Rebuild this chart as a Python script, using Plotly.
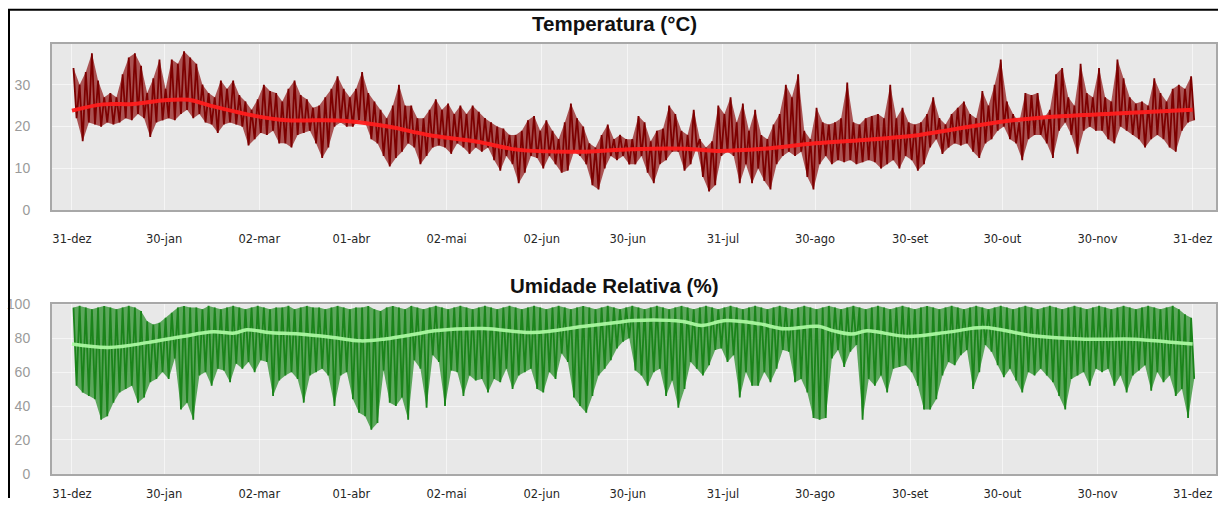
import plotly.graph_objects as go
import pandas as pd

# ---------------- data ----------------
START = "2012-12-31"

tick_dates = ["2012-12-31", "2013-01-30", "2013-03-02", "2013-04-01", "2013-05-02",
              "2013-06-02", "2013-06-30", "2013-07-31", "2013-08-30", "2013-09-30",
              "2013-10-30", "2013-11-30", "2013-12-31"]
tick_labels = ["31-dez", "30-jan", "02-mar", "01-abr", "02-mai", "02-jun", "30-jun",
               "31-jul", "30-ago", "30-set", "30-out", "30-nov", "31-dez"]

# temperature: max / min of each 2-day block (°C)
temp_hi = [34, 30, 33, 37.5, 31, 27, 28, 27, 32.5, 36.5, 37.5, 34.5, 28, 31.5, 36, 29, 36, 35, 38, 36.5,
           35, 30, 28, 27, 31, 29, 31, 27.5, 26, 24, 26.5, 30, 28.5, 28, 26, 29, 31, 27.5, 26.5, 24.5,
           25, 27, 29, 32, 29, 27, 29, 33, 28, 26, 24, 22, 25, 30, 25, 25, 22, 22, 24, 26.5,
           24, 25.5, 23, 25, 23, 25, 23.5, 22, 21, 20, 19.5, 18, 18, 19, 21.5, 22.5, 19, 21.5, 19, 17,
           21, 25.5, 22, 20, 16, 15, 18, 20.5, 17, 18, 17, 17, 22.5, 21, 16.5, 19, 19.5, 25, 23, 19,
           18, 24, 17, 15, 16.5, 25, 23, 27, 21, 25.5, 19, 24, 18, 17, 20.5, 23, 30, 27, 32.5, 19,
           17, 24.5, 21, 20.5, 21, 22, 30.5, 21, 20.5, 22, 22.5, 23, 22, 30, 22, 24.5, 21, 20.5, 21, 23,
           27, 22, 20.5, 23, 24.5, 26, 23, 22, 28.5, 25, 30, 36, 26, 23, 21, 28, 27.5, 28, 22, 24,
           32.5, 34, 27, 25, 35, 28, 27, 34, 27, 26, 36, 31.5, 27, 25.5, 26, 25, 31.5, 28, 26, 29,
           30, 29, 32]
temp_lo = [22, 16.5, 21, 20.5, 20, 21, 20.5, 21, 22, 21.5, 23, 22, 17.5, 21, 21.5, 22, 21.5, 23, 24, 22,
           23, 21, 20.5, 18.5, 20.5, 21, 20.5, 20, 15.5, 17, 18.5, 18, 19, 16, 16, 15, 18, 18.5, 19, 16,
           12.5, 15, 20, 21, 20, 20, 21.5, 21, 17, 16, 13, 10.5, 12.5, 14, 16, 15, 11, 13, 15, 15.5,
           15, 13.5, 16, 15, 13.5, 15, 14, 15, 12, 9.5, 13, 11, 6.5, 9, 13, 12.5, 10, 13, 11, 9,
           9.5, 14, 13, 11, 6, 5, 10, 13, 12, 13, 11, 11, 13, 9, 6.5, 11, 12, 14, 14, 9.5,
           11, 15, 8, 4.5, 6, 13, 14, 13, 6.5, 11, 6.5, 10, 7, 5, 11, 13, 14, 13, 14, 8,
           5, 11, 13, 11, 12, 11.5, 12, 11, 11.5, 12, 11.5, 10, 11, 12, 10, 13, 12, 9.5, 11, 15,
           17, 13.5, 15, 16, 15.5, 16, 14, 12.5, 16, 17, 19, 20, 17, 16, 12, 17, 18, 18, 16, 12.5,
           19, 21, 18, 13.5, 19, 20, 19, 19, 17, 16, 20, 19, 18, 17, 15, 17, 18, 17, 15, 14,
           19, 21, 21.5]

# temperature trend (day offset, °C)
temp_trend_day = [0, 10, 20, 30, 38, 45, 60, 70, 80, 90, 103, 116, 132, 145, 165, 182, 200, 210,
                  225, 242, 258, 276, 286, 302, 318, 340, 365]
temp_trend = [23.8, 25.3, 25.4, 26.3, 26.4, 25.0, 22.5, 21.5, 21.5, 21.3, 20.0, 18.0, 16.4, 14.5,
              14.0, 14.6, 14.7, 14.2, 14.7, 16.0, 16.8, 18.0, 19.2, 21.1, 22.3, 23.1, 24.0]

# relative humidity: max / min of each 2-day block (%)
hum_hi = [98, 99, 98, 97, 98, 99, 98, 97, 98, 99, 98, 96, 90, 88, 89, 92, 95, 98, 99, 98,
          98, 97, 99, 98, 97, 98, 99, 98, 97, 98, 99, 98, 97, 98, 98, 99, 97, 98, 99, 98,
          98, 97, 98, 99, 98, 97, 98, 98, 99, 97, 96, 98, 99, 98, 97, 99, 98, 97, 98, 99,
          98, 97, 98, 99, 98, 97, 98, 99, 98, 97, 98, 99, 98, 97, 98, 99, 98, 97, 98, 99,
          98, 97, 98, 99, 98, 97, 98, 99, 98, 97, 98, 99, 98, 97, 98, 99, 98, 97, 98, 99,
          98, 97, 98, 99, 98, 97, 98, 99, 98, 97, 98, 99, 98, 97, 98, 99, 98, 97, 98, 99,
          98, 97, 98, 99, 98, 97, 98, 99, 98, 97, 98, 99, 98, 97, 98, 99, 98, 97, 98, 99,
          98, 97, 98, 99, 98, 97, 98, 99, 98, 97, 98, 99, 98, 97, 98, 99, 98, 97, 98, 99,
          98, 97, 98, 99, 98, 97, 98, 99, 98, 97, 98, 99, 98, 97, 98, 99, 98, 97, 98, 99,
          97, 94, 92]
hum_lo = [52, 48, 46, 44, 32, 34, 42, 48, 50, 52, 42, 45, 54, 56, 60, 56, 68, 38, 42, 32,
          58, 60, 52, 62, 61, 54, 65, 62, 66, 60, 67, 66, 46, 55, 58, 60, 56, 42, 58, 60,
          62, 58, 40, 58, 60, 44, 36, 34, 26, 30, 61, 42, 40, 45, 32, 67, 62, 39, 70, 66,
          40, 61, 60, 46, 58, 55, 56, 48, 56, 54, 62, 50, 58, 60, 62, 50, 48, 60, 56, 71,
          66, 45, 40, 36, 46, 58, 62, 67, 74, 78, 80, 61, 58, 52, 60, 62, 46, 55, 39, 50,
          66, 62, 58, 64, 73, 74, 66, 70, 45, 60, 52, 52, 60, 54, 62, 73, 72, 54, 56, 48,
          33, 32, 33, 68, 73, 63, 72, 76, 32, 56, 52, 58, 48, 62, 63, 64, 60, 52, 38, 38,
          44, 58, 66, 64, 70, 73, 50, 60, 76, 72, 64, 57, 62, 55, 48, 60, 58, 62, 58, 54,
          46, 38, 56, 58, 60, 52, 62, 60, 62, 52, 58, 48, 58, 61, 64, 49, 60, 54, 58, 46,
          50, 33, 56]

# humidity trend (day offset, %)
hum_trend_day = [0, 12, 25, 36, 46, 53, 57, 64, 74, 85, 94, 102, 112, 118, 134, 150, 167, 178,
                 183, 199, 205, 213, 224, 232, 243, 248, 254, 259, 272, 286, 297, 313, 330, 346,
                 357, 365]
hum_trend = [76.5, 74.5, 77.5, 81.0, 83.7, 83.0, 85.0, 83.3, 82.4, 80.4, 78.4, 79.5, 82.4, 84.3,
             85.7, 83.3, 87.0, 89.4, 90.4, 89.8, 87.5, 90.4, 88.4, 85.5, 87.0, 84.3, 82.4, 84.3,
             81.0, 83.7, 86.3, 81.4, 79.4, 79.4, 77.8, 76.5]

# ---------------- build figure ----------------
base = pd.Timestamp(START)
W, H = 1218, 506


def px(x):
    return x / W


def py(y):
    # vertical placement, corrected for the slight vertical squeeze seen in the photographed page
    yd = (y - 8.3) / 0.970
    return 1 - yd / H


def to_dates(days):
    return [base + pd.Timedelta(days=float(d)) for d in days]


def band(hi, lo):
    n = len(hi)
    xs = [2 * i + 0.5 for i in range(n)] + [2 * i + 1.5 for i in range(n)][::-1]
    ys = list(hi) + list(lo)[::-1]
    return to_dates(xs), ys


def zigzag(hi, lo):
    xs, ys = [], []
    for i, (h, l) in enumerate(zip(hi, lo)):
        xs += [2 * i + 0.5, 2 * i + 1.5]
        ys += [h, l]
    return to_dates(xs), ys


fig = go.Figure()

bx, by = band(temp_hi, temp_lo)
fig.add_trace(go.Scatter(x=bx, y=by, mode="lines", fill="toself", xaxis="x", yaxis="y",
                         fillcolor="rgba(140,12,12,0.68)", line=dict(width=0),
                         hoverinfo="skip", showlegend=False))
zx, zy = zigzag(temp_hi, temp_lo)
fig.add_trace(go.Scatter(x=zx, y=zy, mode="lines", xaxis="x", yaxis="y",
                         line=dict(color="rgb(125,0,0)", width=1.8),
                         hoverinfo="skip", showlegend=False))
fig.add_trace(go.Scatter(x=to_dates(temp_trend_day), y=temp_trend, mode="lines",
                         xaxis="x", yaxis="y",
                         line=dict(color="rgba(255,28,28,0.95)", width=4, shape="spline"),
                         showlegend=False))

bx, by = band(hum_hi, hum_lo)
fig.add_trace(go.Scatter(x=bx, y=by, mode="lines", fill="toself", xaxis="x2", yaxis="y2",
                         fillcolor="rgba(38,142,38,0.72)", line=dict(width=0),
                         hoverinfo="skip", showlegend=False))
zx, zy = zigzag(hum_hi, hum_lo)
fig.add_trace(go.Scatter(x=zx, y=zy, mode="lines", xaxis="x2", yaxis="y2",
                         line=dict(color="rgb(26,132,26)", width=1.8),
                         hoverinfo="skip", showlegend=False))
fig.add_trace(go.Scatter(x=to_dates(hum_trend_day), y=hum_trend, mode="lines",
                         xaxis="x2", yaxis="y2",
                         line=dict(color="rgba(170,248,160,0.95)", width=3.5, shape="spline"),
                         showlegend=False))

xr = [base + pd.Timedelta(days=-6.5), base + pd.Timedelta(days=372.6)]
tickv = [pd.Timestamp(d) for d in tick_dates]

x_dom = [px(52), px(1216)]
top_dom = [py(211), py(44)]
bot_dom = [py(475), py(305)]

xaxis_common = dict(type="date", range=xr, domain=x_dom, tickmode="array", tickvals=tickv,
                    ticktext=tick_labels, showgrid=True, gridcolor="rgba(255,255,255,0.55)",
                    gridwidth=1, zeroline=False, showline=True, mirror=True,
                    linecolor="#a8a8a8", linewidth=2, ticks="",
                    tickfont=dict(family="DejaVu Sans", size=11.5, color="#262626"))
yaxis_common = dict(showgrid=True, gridcolor="rgba(255,255,255,0.55)", gridwidth=1,
                    zeroline=False, showline=True, mirror=True, linecolor="#a8a8a8",
                    linewidth=2, ticks="", ticklabelstandoff=17,
                    tickfont=dict(family="Liberation Sans, Arial", size=14, color="#9a9a9a"))

fig.update_layout(
    width=W, height=H, margin=dict(l=0, r=0, t=0, b=0),
    paper_bgcolor="white", plot_bgcolor="#e8e8e8",
    xaxis=dict(**xaxis_common, anchor="y", ticklabelstandoff=17),
    xaxis2=dict(**xaxis_common, anchor="y2", ticklabelstandoff=8),
    yaxis=dict(**yaxis_common, domain=top_dom, range=[0, 39.8], tickvals=[0, 10, 20, 30],
               anchor="x"),
    yaxis2=dict(**yaxis_common, domain=bot_dom, range=[0, 100],
                tickvals=[0, 20, 40, 60, 80, 100], anchor="x2"),
    annotations=[
        dict(text="<b>Temperatura (°C)</b>", x=px(614), y=py(24), xref="paper", yref="paper",
             xanchor="center", yanchor="middle", showarrow=False,
             font=dict(family="Liberation Sans, Arial", size=20.5, color="#111")),
        dict(text="<b>Umidade Relativa (%)</b>", x=px(613.5), y=py(286.5), xref="paper",
             yref="paper", xanchor="center", yanchor="middle", showarrow=False,
             font=dict(family="Liberation Sans, Arial", size=20.5, color="#111")),
    ],
    shapes=[
        dict(type="line", xref="paper", yref="paper", x0=px(8), x1=1.0, y0=py(10), y1=py(10),
             line=dict(color="black", width=2)),
        dict(type="line", xref="paper", yref="paper", x0=px(9), x1=px(9), y0=0, y1=py(10),
             line=dict(color="black", width=2)),
    ],
)

fig.write_html("out.html", config={"displayModeBar": False},
               post_script="document.body.style.margin='0';"
                           "document.body.style.overflow='hidden';")
